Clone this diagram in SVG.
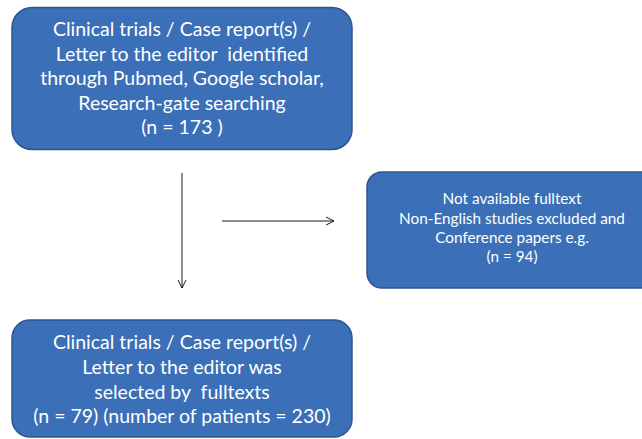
<svg xmlns="http://www.w3.org/2000/svg" width="642" height="439" viewBox="0 0 642 439">
<defs>
<style>
.box{fill:#3b6fb7;stroke:#2b5690;stroke-width:1.5}
.t{font-family:Lato,"Open Sans","Liberation Sans",sans-serif;fill:#ffffff;text-anchor:middle;white-space:pre}
.big{font-size:19.5px}
.small{font-size:15.3px}
.conn{stroke:#1a1a1a;stroke-width:1;fill:none}
</style>
<marker id="arr" viewBox="0 0 10 10" refX="9" refY="5" markerWidth="10" markerHeight="10" markerUnits="userSpaceOnUse" orient="auto">
<path d="M1,1 L9,5 L1,9" fill="none" stroke="#1a1a1a" stroke-width="1"/>
</marker>
</defs>
<rect width="642" height="439" fill="#ffffff"/>
<g id="node-identified">
<rect class="box" x="12" y="7.5" width="340" height="142" rx="20" ry="20"/>
<text class="t big" x="182" y="36">Clinical trials / Case report(s) /</text>
<text class="t big" x="182" y="60.5" xml:space="preserve">Letter to the editor  identified</text>
<text class="t big" x="182" y="85">through Pubmed, Google scholar,</text>
<text class="t big" x="182" y="109.5">Research-gate searching</text>
<text class="t big" x="182" y="134">(n = 173 )</text>
</g>
<g id="node-excluded">
<rect class="box" x="367" y="172" width="300" height="116" rx="15" ry="15"/>
<text class="t small" x="512" y="204">Not available fulltext</text>
<text class="t small" x="512" y="224">Non-English studies excluded and</text>
<text class="t small" x="512" y="243">Conference papers e.g.</text>
<text class="t small" x="512" y="262">(n = 94)</text>
</g>
<g id="node-selected">
<rect class="box" x="12" y="320" width="340" height="117" rx="18" ry="18"/>
<text class="t big" x="182" y="349">Clinical trials / Case report(s) /</text>
<text class="t big" x="182" y="374">Letter to the editor was</text>
<text class="t big" x="182" y="399" xml:space="preserve">selected by  fulltexts</text>
<text class="t big" x="182" y="423">(n = 79) (number of patients = 230)</text>
</g>
<g id="connectors">
<line class="conn" x1="182" y1="173" x2="182" y2="288" marker-end="url(#arr)"/>
<line class="conn" x1="222" y1="221" x2="334" y2="221" marker-end="url(#arr)"/>
</g>
</svg>
